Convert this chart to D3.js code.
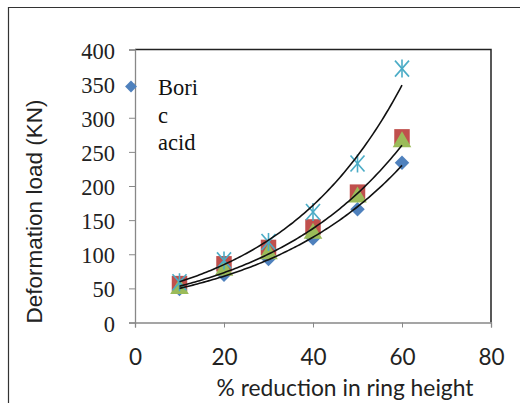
<!DOCTYPE html>
<html><head><meta charset="utf-8">
<script src="https://cdn.jsdelivr.net/npm/d3@7"></script>
<style>body{margin:0;background:#fff}</style>
</head><body>
<svg id="c" width="520" height="403"></svg>
<script>
const xValues = [10, 20, 30, 40, 50, 60];
const blueValues = [49, 70, 93, 123, 166, 234];
const redValues = [57, 86, 110, 140, 191, 272];
const greenValues = [51, 78, 102, 132, 185, 266];
const cyanValues = [59, 91, 118, 162, 233, 372];
const xTicks = [0, 20, 40, 60, 80];
const yTicks = [0, 50, 100, 150, 200, 250, 300, 350, 400];
const legendLines = ["Bori", "c", "acid"];

const svg = d3.select("#c");
const L = 135, R = 491, T = 49.5, B = 322.5;
const x = d3.scaleLinear().domain([0, 80]).range([L, R]);
const y = d3.scaleLinear().domain([0, 400]).range([B, T]);

// outer frame
svg.append("path").attr("d", "M8.5,403 L8.5,7.5 L520,7.5").attr("fill","none").attr("stroke","#333").attr("stroke-width",1.2);

// plot border (top/right)
svg.append("path").attr("d", `M${L},${T} L${R},${T} L${R},${B}`).attr("fill","none").attr("stroke","#222").attr("stroke-width",1.5);

// axes
const gx = svg.append("g").attr("transform", `translate(0,${B})`)
  .call(d3.axisBottom(x).tickValues(xTicks).tickSize(5).tickFormat(d3.format("d")));
gx.select(".domain").attr("stroke","#888").attr("stroke-width",1.3);
gx.selectAll(".tick line").attr("stroke","#888");
gx.selectAll(".tick text").attr("font-family","Lato, 'Open Sans', sans-serif").attr("font-size",22.5).attr("fill","#222").attr("y",27).attr("dy","0.71em");

const gy = svg.append("g").attr("transform", `translate(${L},0)`)
  .call(d3.axisLeft(y).tickValues(yTicks).tickSize(6).tickFormat(d3.format("d")));
gy.select(".domain").attr("stroke","#888").attr("stroke-width",1.3);
gy.selectAll(".tick line").attr("stroke","#888");
gy.selectAll(".tick text").attr("font-family","'Liberation Serif', serif").attr("font-size",22.5).attr("fill","#222").attr("x",-20).attr("dy","0.38em");

// titles
svg.append("text").attr("x", 345).attr("y", 396).attr("text-anchor","middle")
  .attr("font-family","Lato, 'Open Sans', sans-serif").attr("font-size",22.8).attr("fill","#222")
  .text("% reduction  in ring height");
svg.append("text").attr("transform","translate(42,211.5) rotate(-90)").attr("text-anchor","middle")
  .attr("font-family","'Liberation Sans', Arial, sans-serif").attr("font-size",22.5).attr("fill","#222")
  .text("Deformation load (KN)");

// exponential trend fits
function expFit(xs, ys){
  const ly = ys.map(Math.log);
  const mx = d3.mean(xs), my = d3.mean(ly);
  let sxy = 0, sxx = 0;
  xs.forEach((v,i)=>{sxy += (v-mx)*(ly[i]-my); sxx += (v-mx)*(v-mx);});
  const b = sxy/sxx, a = my - b*mx;
  return v => Math.exp(a + b*v);
}
const line = d3.line().x(d=>x(d[0])).y(d=>y(d[1]));
const fitSeries = [blueValues, greenValues, cyanValues];
const xs = d3.range(10, 60.01, 0.5);

// markers
const sym = (type, size) => d3.symbol().type(type).size(size)();
function drawMarkers(vals, fn){ vals.forEach((v,i)=>fn(x(xValues[i]), y(v))); }

drawMarkers(blueValues, (px,py)=>svg.append("path").attr("d", sym(d3.symbolSquare, 105))
  .attr("transform",`translate(${px},${py}) rotate(45)`).attr("fill","#4F81BD"));
drawMarkers(redValues, (px,py)=>svg.append("path").attr("d", sym(d3.symbolSquare, 240))
  .attr("transform",`translate(${px},${py})`).attr("fill","#C0504D"));
drawMarkers(greenValues, (px,py)=>svg.append("path").attr("d", sym(d3.symbolTriangle, 150))
  .attr("transform",`translate(${px},${py+1})`).attr("fill","#9BBB59"));
drawMarkers(cyanValues, (px,py)=>{
  const g = svg.append("g").attr("transform",`translate(${px},${py})`).attr("stroke","#4BACC6").attr("stroke-width",1.6);
  g.append("line").attr("x1",-7).attr("y1",-8).attr("x2",7).attr("y2",8);
  g.append("line").attr("x1",-7).attr("y1",8).attr("x2",7).attr("y2",-8);
  g.append("line").attr("x1",0).attr("y1",-9).attr("x2",0).attr("y2",9);
});

fitSeries.forEach(vals=>{
  const f = expFit(xValues, vals);
  svg.append("path").attr("d", line(xs.map(v=>[v, f(v)])))
    .attr("fill","none").attr("stroke","#111").attr("stroke-width",1.6);
});

// legend
svg.append("path").attr("d", sym(d3.symbolSquare, 70))
  .attr("transform","translate(131,86.5) rotate(45)").attr("fill","#4F81BD");
svg.selectAll(".leg").data(legendLines).enter().append("text")
  .attr("x",158).attr("y",(d,i)=>95+i*27.5)
  .attr("font-family","'Liberation Serif', serif").attr("font-size",22.5).attr("fill","#111")
  .text(d=>d);
</script>
</body></html>
